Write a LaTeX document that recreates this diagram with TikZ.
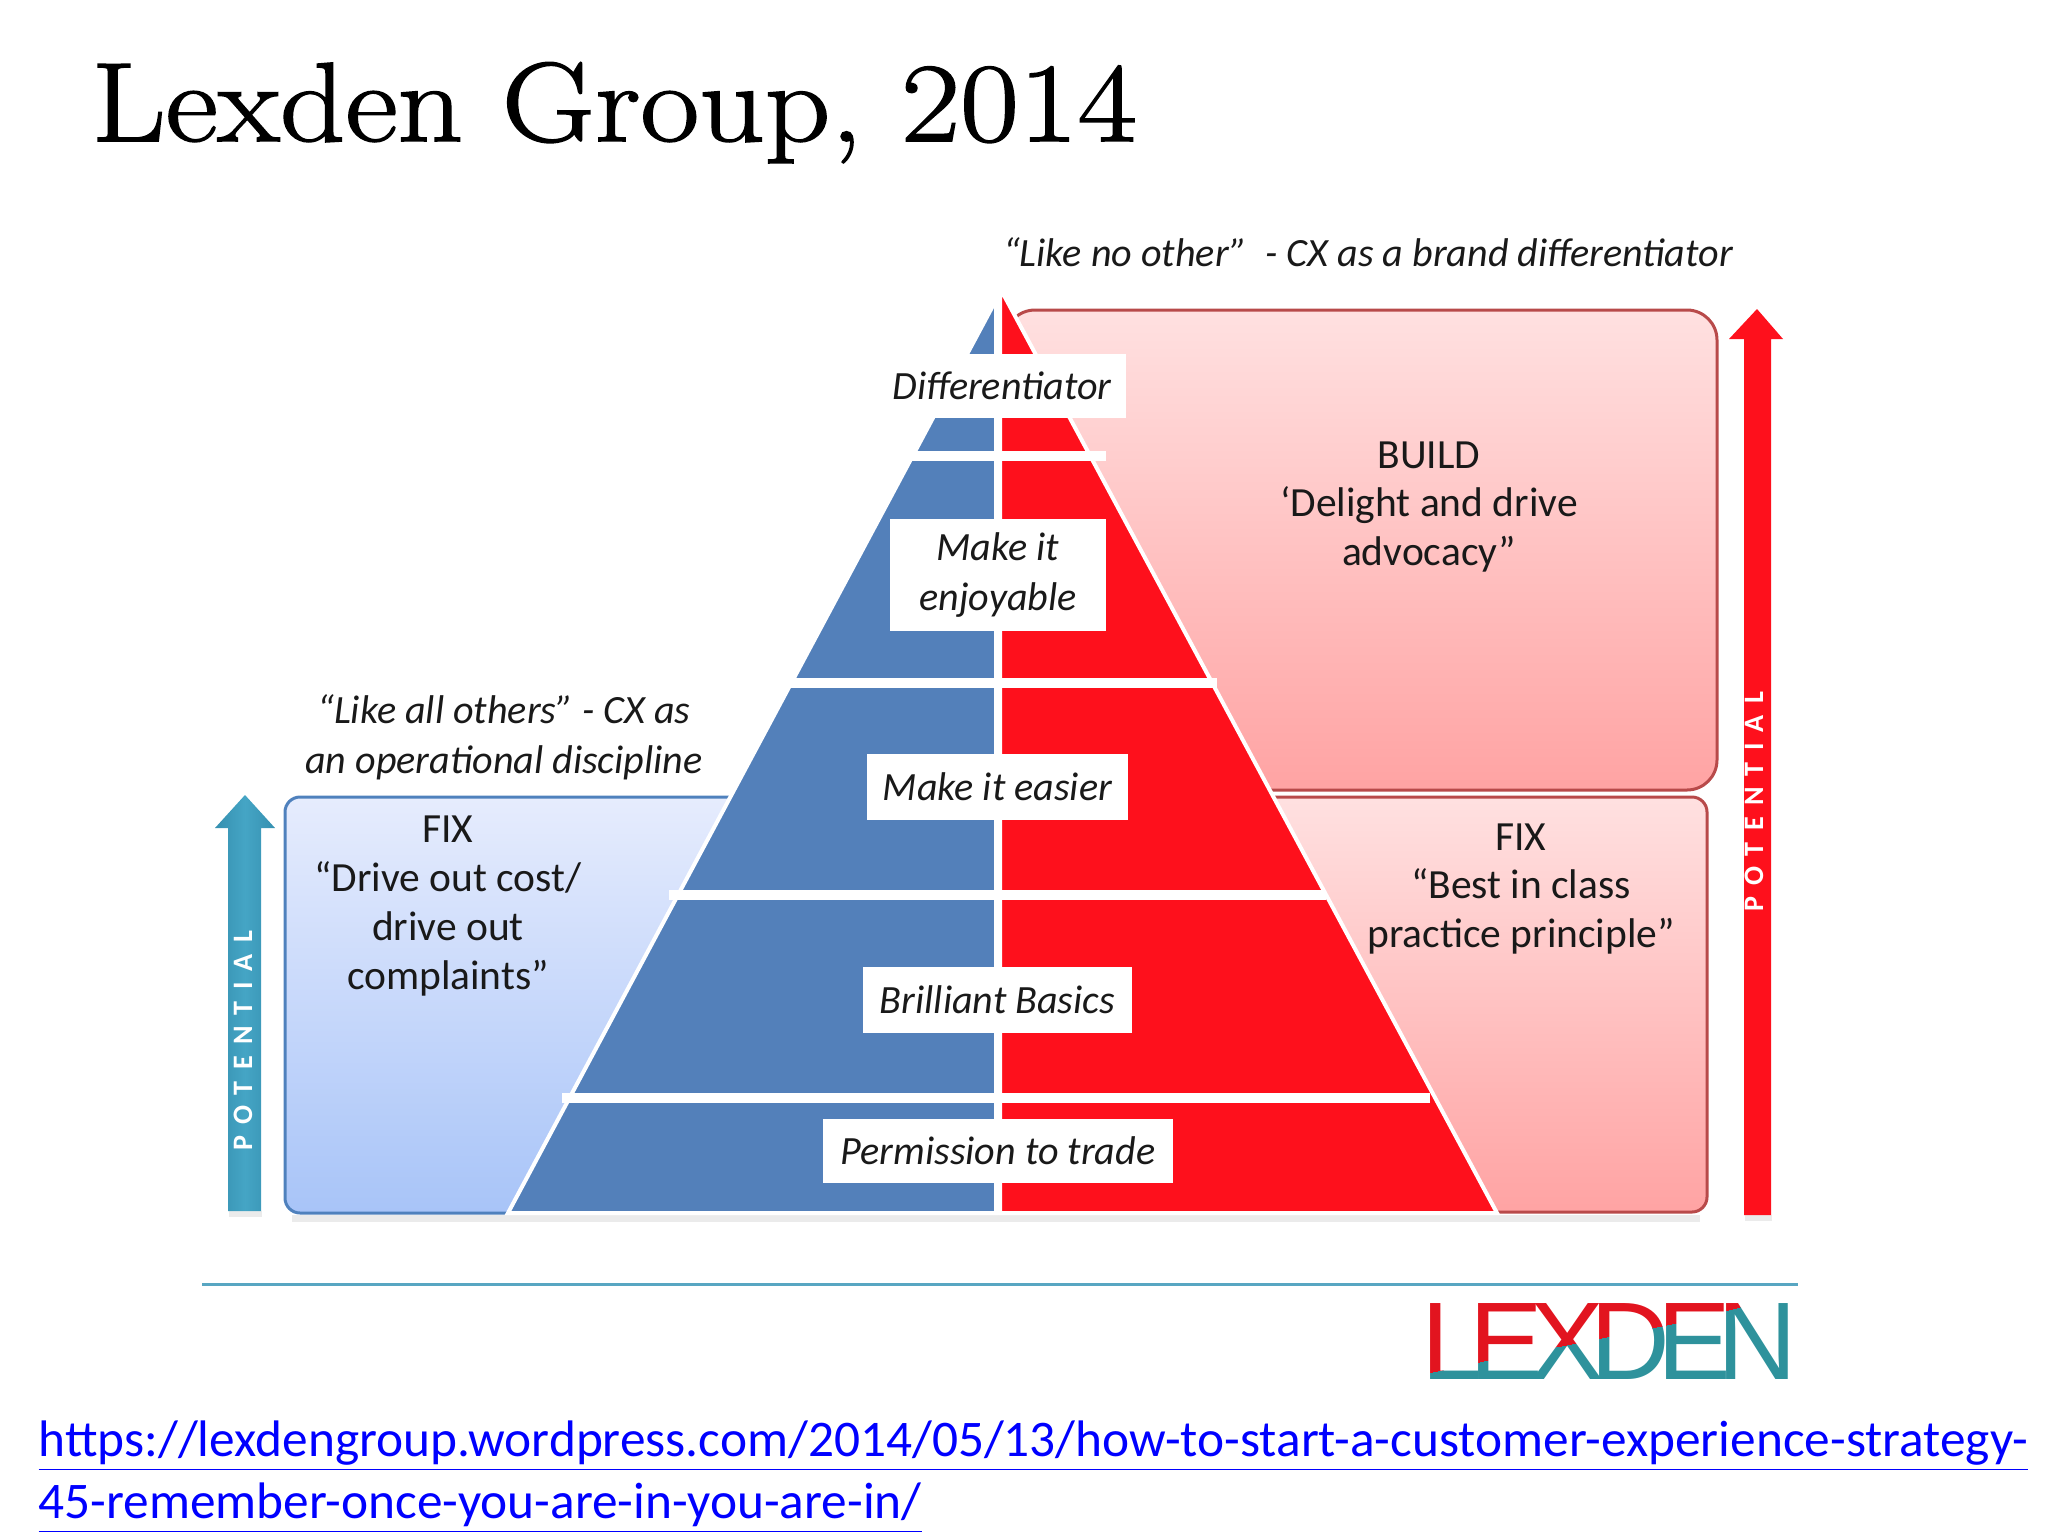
\documentclass[tikz,border=0pt]{standalone}
\usepackage{fontspec}
\newfontfamily\titlefont[FakeStretch=1.14,FakeBold=1.5]{Latin Modern Roman}
\newfontfamily\bodyfont{Carlito}
\newfontfamily\spacedfont[LetterSpace=40]{Carlito}
\newfontfamily\logofont[LetterSpace=-12]{Liberation Sans}
\definecolor{pyrblue}{HTML}{5380BA}
\definecolor{pyrred}{HTML}{FE101C}
\definecolor{fixedge}{HTML}{4F81BD}
\definecolor{fixtop}{HTML}{E6ECFD}
\definecolor{fixbottom}{HTML}{A8C4F8}
\definecolor{buildedge}{HTML}{B84A4A}
\definecolor{arrowteal}{HTML}{3590B0}
\definecolor{arrowmid}{HTML}{45A5C5}
\definecolor{ruleblue}{HTML}{58A6C2}
\definecolor{logoteal}{HTML}{2E929C}
\definecolor{logored}{HTML}{E2141F}
\tikzset{
	bodytext/.style={font=\bodyfont\fontsize{11.8}{13.9}\selectfont, align=center, text=black!90, inner sep=0pt},
	quotetext/.style={font=\bodyfont\itshape\fontsize{11.4}{14.2}\selectfont, align=center, text=black!90, inner sep=0pt},
	labelbox/.style={quotetext, fill=white},
	bandline/.style={white, line width=0.1cm},
	boxshadow/.style={black, opacity=0.08, line width=0.07cm},
	potentialtext/.style={font=\spacedfont\bfseries\fontsize{8}{9}\selectfont, white, rotate=90, inner sep=0pt},
	urltext/.style={font=\bodyfont\fontsize{14.6}{17}\selectfont, text=blue, anchor=base west, inner sep=0pt}
}
\begin{document}
\begin{tikzpicture}[x=0.01cm, y=-0.01cm]
	\useasboundingbox (0,0) rectangle (2048,1536);
	\node [font=\titlefont\fontsize{32}{36}\selectfont, anchor=base west, inner sep=0pt] (title) at (91,141) {Lexden Group, 2014};
	% boxes
	\draw [boxshadow] (292,1218) -- (1700,1218);
	\draw [rounded corners=0.15cm, draw=buildedge, line width=0.03cm, top color=red!12, bottom color=red!36] (1150,797) rectangle (1707,1212);
	\draw [rounded corners=0.3cm, draw=buildedge, line width=0.03cm, top color=red!12, bottom color=red!36] (1005,310) rectangle (1717,790);
	\draw [rounded corners=0.15cm, draw=fixedge, line width=0.03cm, top color=fixtop, bottom color=fixbottom] (285,797) rectangle (900,1213);
	% pyramid
	\draw [draw=white, line width=0.04cm, fill=pyrblue] (508,1213) -- (996,300) -- (996,1213) -- cycle;
	\draw [draw=white, line width=0.04cm, fill=pyrred] (1000,288) -- (1497,1213) -- (1000,1213) -- cycle;
	\foreach \yband/\xleft/\xright in {456/906/1106, 683/790/1217, 895/669/1326, 1098/562/1430}
		\draw [bandline] (\xleft,\yband) -- (\xright,\yband);
	% arrows
	\fill [black, opacity=0.08] (229,1211) rectangle (262,1217);
	\fill [black, opacity=0.08] (1745,1215) rectangle (1772,1221);
	\path [left color=arrowteal, right color=arrowteal, middle color=arrowmid] (228,1211) -- (228,828) -- (215,828) -- (245,795) -- (275,828) -- (261,828) -- (261,1211) -- cycle;
	\fill [pyrred] (1744,1215) -- (1744,339) -- (1729,339) -- (1757,309) -- (1783,339) -- (1771,339) -- (1771,1215) -- cycle;
	\node [potentialtext] (potentialleft) at (243,1041) {POTENTIAL};
	\node [potentialtext] (potentialright) at (1754,802) {POTENTIAL};
	% labels
	\node [labelbox, minimum width=2.48cm, minimum height=0.63cm] (differentiator) at (1002,386) {Differentiator};
	\node [labelbox, minimum width=2.16cm, minimum height=1.12cm] (enjoyable) at (998,575) {Make it\\enjoyable};
	\node [labelbox, minimum width=2.61cm, minimum height=0.65cm] (easier) at (997.5,787) {Make it easier};
	\node [labelbox, minimum width=2.69cm, minimum height=0.66cm] (basics) at (997.5,1000) {Brilliant Basics};
	\node [labelbox, minimum width=3.50cm, minimum height=0.63cm] (permission) at (998,1151) {Permission to trade};
	\node [quotetext] (noother) at (1368,252) {“Like no other”\ \ - CX as a brand differentiator};
	\node [quotetext] (allothers) at (504,737) {“Like all others” - CX as\\an operational discipline};
	\node [bodytext] (fixleft) at (448,906) {FIX\\“Drive out cost/\\drive out\\complaints”};
	\node [bodytext] (build) at (1429,507) {BUILD\\‘Delight and drive\\advocacy”};
	\node [bodytext] (fixright) at (1521,889) {FIX\\“Best in class\\practice principle”};
	% rule and logo
	\draw [draw=ruleblue, line width=0.03cm] (202,1284) -- (1798,1284);
	\begin{scope}
		\clip (1420,1375) -- (1499,1358) -- (1568,1345) -- (1618,1335) -- (1683,1322) -- (1741,1307) -- (1748,1290) -- (1420,1290) -- cycle;
		\node [font=\logofont\fontsize{31.4}{34}\selectfont, text=logored, anchor=base west, inner sep=0pt] (logotop) at (1421,1379) {LEXDEN};
	\end{scope}
	\begin{scope}
		\clip (1420,1375) -- (1499,1358) -- (1568,1345) -- (1618,1335) -- (1683,1322) -- (1741,1307) -- (1748,1290) -- (1800,1290) -- (1800,1390) -- (1420,1390) -- cycle;
		\node [font=\logofont\fontsize{31.4}{34}\selectfont, text=logoteal, anchor=base west, inner sep=0pt] (logobottom) at (1421,1379) {LEXDEN};
	\end{scope}
	% url
	\node [urltext] (urlone) at (38,1456) {\underline{https://lexdengroup.wordpress.com/2014/05/13/how-to-start-a-customer-experience-strategy-}};
	\node [urltext] (urltwo) at (38,1518) {\underline{45-remember-once-you-are-in-you-are-in/}};
\end{tikzpicture}
\end{document}
